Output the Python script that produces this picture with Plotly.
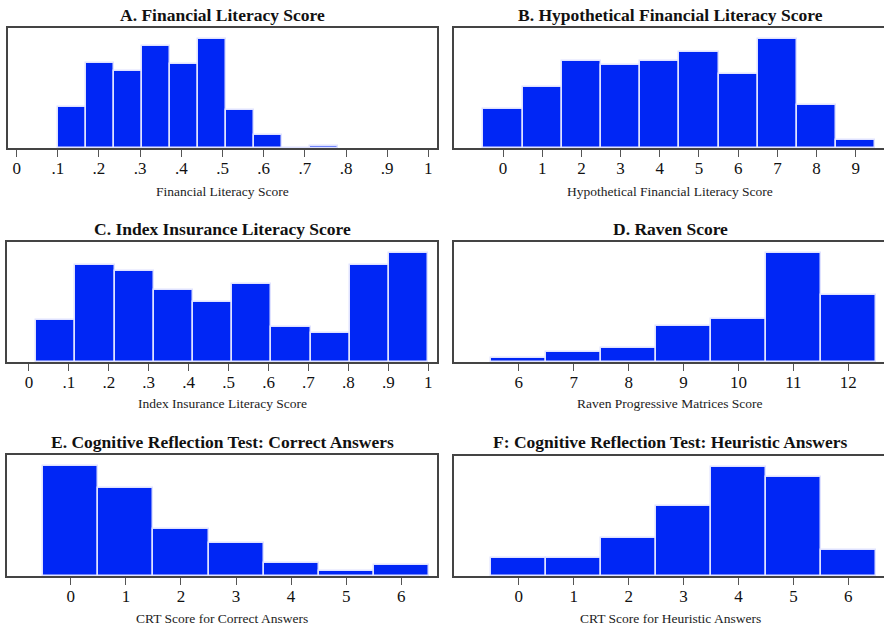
import plotly.graph_objects as go

# ---- data -------------------------------------------------------------
# A. Financial literacy score (bins of width 0.068 starting at 0.1)
fin_bin_start = 0.1
fin_bin_width = 0.068
fin_heights = [7.5, 15.4, 14.0, 18.5, 15.3, 19.8, 6.9, 2.3, 0.0, 0.4]

# B. Hypothetical financial literacy score (0..9)
hyp_scores = [0, 1, 2, 3, 4, 5, 6, 7, 8, 9]
hyp_heights = [5.7, 8.9, 12.8, 12.1, 12.8, 14.1, 10.9, 16.0, 6.3, 1.1]

# C. Index insurance literacy score (10 bins)
ins_bin_start = 0.018
ins_bin_width = 0.0982
ins_heights = [5.8, 13.5, 12.6, 10.0, 8.4, 10.9, 4.9, 4.0, 13.5, 15.2]

# D. Raven progressive matrices score (6..12)
raven_scores = [6, 7, 8, 9, 10, 11, 12]
raven_heights = [1.5, 3.4, 4.8, 12.4, 15.1, 38.1, 23.5]

# E. CRT correct answers (0..6)
crt_scores = [0, 1, 2, 3, 4, 5, 6]
crt_correct_heights = [36.4, 29.2, 15.4, 10.9, 4.2, 1.6, 3.5]

# F. CRT heuristic answers (0..6)
crt_heuristic_heights = [4.9, 4.9, 10.2, 18.8, 29.3, 26.6, 6.9]

# tick labels
dec_tickvals = [0, 0.1, 0.2, 0.3, 0.4, 0.5, 0.6, 0.7, 0.8, 0.9, 1.0]
dec_ticktext = ["0", ".1", ".2", ".3", ".4", ".5", ".6", ".7", ".8", ".9", "1"]

titles = [
    "A. Financial Literacy Score",
    "B. Hypothetical Financial Literacy Score",
    "C. Index Insurance Literacy Score",
    "D. Raven Score",
    "E. Cognitive Reflection Test: Correct Answers",
    "F: Cognitive Reflection Test: Heuristic Answers",
]
xtitles = [
    "Financial Literacy Score",
    "Hypothetical Financial Literacy Score",
    "Index Insurance Literacy Score",
    "Raven Progressive Matrices Score",
    "CRT Score for Correct Answers",
    "CRT Score for Heuristic Answers",
]

# ---- styling ----------------------------------------------------------
W, H = 884, 626
SERIF = "Liberation Serif"
BAR_FILL = "#0026f5"
BAR_EDGE = "#dfe2ff"
FRAME = "#444444"

fin_centers = [fin_bin_start + (i + 0.5) * fin_bin_width for i in range(len(fin_heights))]
ins_centers = [ins_bin_start + (i + 0.5) * ins_bin_width for i in range(len(ins_heights))]

panels = [
    dict(x=fin_centers, y=fin_heights, w=fin_bin_width, xr=[-0.021, 1.021],
         tv=dec_tickvals, tt=dec_ticktext, px=(8, 437), py=(28, 148), right=True),
    dict(x=hyp_scores, y=hyp_heights, w=1.0, xr=[-1.25, 9.72],
         tv=hyp_scores, tt=[str(v) for v in hyp_scores], px=(454, 884), py=(28, 148), right=False),
    dict(x=ins_centers, y=ins_heights, w=ins_bin_width, xr=[-0.055, 1.022],
         tv=dec_tickvals, tt=dec_ticktext, px=(7, 437), py=(242, 362), right=True),
    dict(x=raven_scores, y=raven_heights, w=1.0, xr=[4.82, 12.65],
         tv=raven_scores, tt=[str(v) for v in raven_scores], px=(454, 884), py=(242, 362), right=False),
    dict(x=crt_scores, y=crt_correct_heights, w=1.0, xr=[-1.16, 6.65],
         tv=crt_scores, tt=[str(v) for v in crt_scores], px=(7, 437), py=(455, 576), right=True),
    dict(x=crt_scores, y=crt_heuristic_heights, w=1.0, xr=[-1.18, 6.65],
         tv=crt_scores, tt=[str(v) for v in crt_scores], px=(454, 884), py=(456, 576), right=False),
]

title_pos = [(222, 15), (670, 15), (222, 229), (670, 229), (222, 442), (670, 442)]
xtitle_pos = [(222, 191), (670, 191), (222, 403), (670, 403), (222, 618), (670, 618)]

fig = go.Figure()
layout = dict(
    width=W, height=H,
    margin=dict(l=0, r=0, t=0, b=0),
    paper_bgcolor="white", plot_bgcolor="white",
    showlegend=False, bargap=0,
    font=dict(family=SERIF, color="#111111"),
    annotations=[],
)

for i, p in enumerate(panels):
    n = i + 1
    xa = "x" if n == 1 else f"x{n}"
    ya = "y" if n == 1 else f"y{n}"
    fig.add_trace(go.Bar(
        x=p["x"], y=p["y"], width=p["w"],
        marker=dict(color=BAR_FILL, line=dict(color=BAR_EDGE, width=1.5)),
        xaxis=xa, yaxis=ya, hoverinfo="skip",
    ))
    x0, x1 = p["px"]
    y0, y1 = p["py"]
    layout[f"xaxis{'' if n == 1 else n}"] = dict(
        domain=[x0 / W, min(x1 / W, 1.0)],
        anchor=ya, range=p["xr"],
        tickmode="array", tickvals=p["tv"], ticktext=p["tt"],
        ticks="outside", ticklen=7, tickwidth=1.2, tickcolor="#555555",
        ticklabelstandoff=-3,
        tickfont=dict(family=SERIF, size=17, color="#111111"),
        showline=True, linecolor=FRAME, linewidth=1.5, mirror=True,
        showgrid=False, zeroline=False, fixedrange=True,
    )
    max_h = max(p["y"])
    layout[f"yaxis{'' if n == 1 else n}"] = dict(
        domain=[1 - y1 / H, 1 - y0 / H],
        anchor=xa, range=[0, max_h * 1.098],
        showticklabels=False, ticks="",
        showline=True, linecolor=FRAME, linewidth=1.5, mirror=p["right"],
        showgrid=False, zeroline=False, fixedrange=True,
    )
    tx, ty = title_pos[i]
    layout["annotations"].append(dict(
        text=f"<b>{titles[i]}</b>", x=tx / W, y=1 - ty / H,
        xref="paper", yref="paper", xanchor="center", yanchor="middle",
        showarrow=False, font=dict(family=SERIF, size=17.5, color="#111111"),
    ))
    ax, ay = xtitle_pos[i]
    layout["annotations"].append(dict(
        text=xtitles[i], x=ax / W, y=1 - ay / H,
        xref="paper", yref="paper", xanchor="center", yanchor="middle",
        showarrow=False, font=dict(family=SERIF, size=13.5, color="#222222"),
    ))

fig.update_layout(**layout)
fig.write_html("out.html")
